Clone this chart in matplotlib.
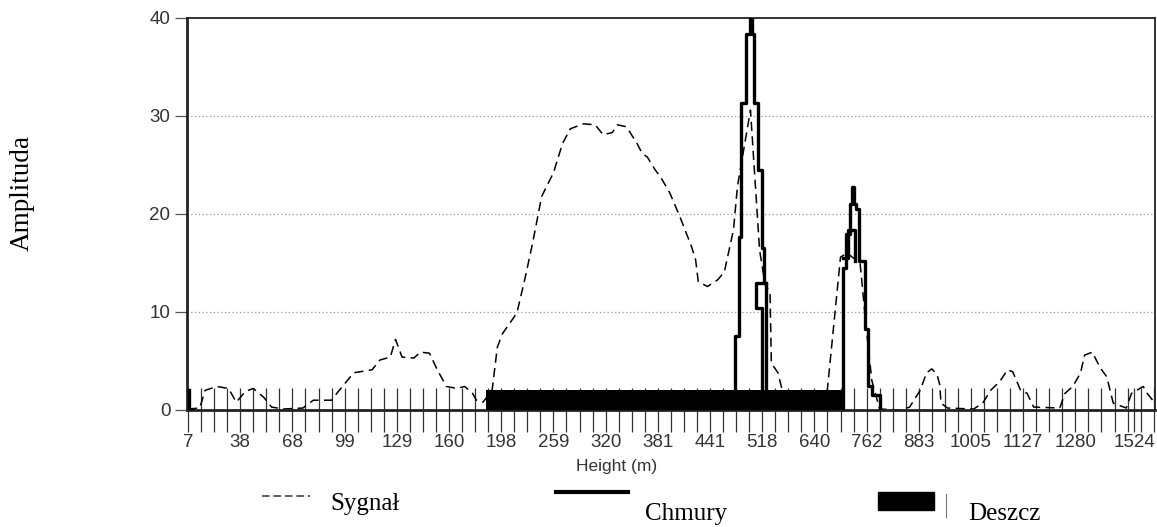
import matplotlib
matplotlib.use("Agg")
import matplotlib.pyplot as plt
import numpy as np
from matplotlib.lines import Line2D
from matplotlib.patches import Rectangle

# tick labels (height in m), placed on the range-gate index axis
tick_pos = [0, 4, 8, 12, 16, 20, 24, 28, 32, 36, 40, 44, 48, 52, 56, 60, 64, 68, 72.5]
tick_lbl = ["7", "38", "68", "99", "129", "160", "198", "259", "320", "381",
            "441", "518", "640", "762", "883", "1005", "1127", "1280", "1524"]

# signal (dashed): gate index, amplitude
sig_x = [0, 0.9, 1.3, 2.2, 3.1, 3.7, 4.4, 5.0, 5.8, 6.4, 7.3, 8.8, 9.6, 11.0, 11.4,
         12.7, 14.1, 14.7, 15.5, 15.9, 16.4, 17.3, 17.8, 18.5, 19.1, 19.8, 20.6,
         21.2, 21.8, 22.1, 22.6, 23.3, 23.7, 24.1, 25.2, 25.8, 26.4, 27.1, 28.0,
         28.7, 29.3, 30.3, 31.2, 31.8, 32.5, 32.9, 33.6, 34.4, 34.8, 35.2, 35.8,
         36.2, 36.9, 37.7, 38.6, 38.9, 39.1, 39.8, 40.6, 41.1, 41.8, 42.1, 43.1,
         43.8, 44.2, 44.6, 44.7, 45.2, 45.5, 46.0, 48.8, 49.0, 50.0, 50.5, 51.5,
         52.0, 52.4, 53.0, 54.6, 55.3, 56.1, 56.6, 57.0, 57.4, 57.6, 57.7, 58.2,
         60.2, 60.9, 61.5, 62.2, 62.8, 63.2, 63.8, 64.3, 64.8, 66.8, 67.2, 67.8,
         68.4, 68.7, 69.3, 69.9, 70.4, 70.9, 71.9, 72.3, 73.2, 73.5, 74.1]
sig_y = [0.1, 0.2, 2.0, 2.4, 2.2, 0.8, 1.9, 2.2, 1.3, 0.3, 0.1, 0.2, 1.0, 1.0, 1.7,
         3.8, 4.1, 5.1, 5.4, 7.2, 5.4, 5.3, 5.9, 5.8, 4.1, 2.4, 2.2,
         2.4, 1.7, 1.0, 0.8, 2.0, 6.4, 7.8, 9.9, 13.3, 17.0, 21.8, 24.2,
         27.2, 28.7, 29.2, 29.1, 28.1, 28.3, 29.1, 28.9, 27.2, 26.2, 25.8, 24.5,
         23.8, 22.2, 19.7, 16.6, 15.3, 13.1, 12.6, 13.3, 14.1, 18.4, 22.8, 30.6,
         16.3, 13.0, 11.9, 4.8, 3.8, 2.2, 0.0, 0.0, 2.2, 15.6, 16.0, 15.0,
         8.0, 3.0, 0.1, 0.0, 0.3, 2.0, 3.8, 4.2, 3.6, 2.6, 0.7, 0.2,
         0.1, 0.7, 2.0, 2.9, 4.1, 3.9, 2.0, 1.7, 0.3, 0.2, 1.7, 2.4,
         3.8, 5.6, 5.9, 4.3, 3.4, 0.7, 0.2, 1.7, 2.4, 1.7, 0.7]

# clouds (solid step outlines)
cloud1_x = [41.6, 41.9, 42.2, 42.4, 42.75, 43.1, 43.2, 43.35, 43.65, 43.95, 44.15, 44.3]
cloud1_y = [0, 7.6, 17.7, 31.3, 38.4, 42.0, 38.4, 31.3, 24.5, 16.5, 13.0, 0]
cloud1b_x = [44.3, 43.5, 43.5, 43.95, 43.95]
cloud1b_y = [13.0, 13.0, 10.4, 10.4, 0]
cloud2_x = [50.0, 50.2, 50.45, 50.7, 50.85, 51.0, 51.2, 51.45, 51.9, 52.1, 52.4, 53.0]
cloud2_y = [0, 14.5, 18.0, 21.0, 22.8, 21.0, 20.5, 15.2, 8.3, 2.4, 1.5, 0]
cloud2b_x = [50.2, 50.55, 50.55, 51.1, 51.1]
cloud2b_y = [15.5, 15.5, 18.4, 18.4, 15.2]
cloud0_x = [0.05, 0.05, 0.4]
cloud0_y = [2.0, 0.0, 0.0]

# rain (filled bar)
rain_start, rain_end, rain_top = 22.8, 50.3, 2.0

sans = "Liberation Sans"
serif = "Liberation Serif"

fig = plt.figure(figsize=(11.57, 5.27), dpi=100)
ax = fig.add_axes([187 / 1157, 1 - 410 / 527, (1155 - 187) / 1157, (410 - 18) / 527])

ax.plot(sig_x, sig_y, color="black", lw=1.1, ls=(0, (6, 3.5)), zorder=2)
ax.bar(rain_start, rain_top, width=rain_end - rain_start, align="edge",
       color="black", zorder=3)
ax.step(cloud1_x, cloud1_y, where="post", color="black", lw=2.4, zorder=4)
ax.plot(cloud1b_x, cloud1b_y, color="black", lw=2.4, zorder=4)
ax.step(cloud2_x, cloud2_y, where="post", color="black", lw=2.4, zorder=4)
ax.plot(cloud2b_x, cloud2b_y, color="black", lw=2.4, zorder=4)
ax.plot(cloud0_x, cloud0_y, color="black", lw=2.4, zorder=4)

ax.set_xlim(-0.08, 74.1)
ax.set_ylim(0, 40)
ax.set_yticks([0, 10, 20, 30, 40])
ax.set_xticks(tick_pos)
ax.set_xticklabels(tick_lbl)
ax.set_xticks(np.arange(0, 75), minor=True)
for lab in ax.get_xticklabels() + ax.get_yticklabels():
    lab.set_family(sans)
for y in [10, 20, 30]:
    ax.axhline(y, color="#9a9a9a", lw=0.9, ls=(0, (1, 2)), zorder=1)

ax.tick_params(axis="x", which="both", direction="inout", length=32, width=0.9,
               color="#333333", labelsize=13.5, labelcolor="#333333", pad=1)
ax.tick_params(axis="y", direction="out", length=9, width=0.9, color="#555555",
               labelsize=13.5, labelcolor="#333333", pad=3)
for s in ax.spines.values():
    s.set_linewidth(1.3)
    s.set_color("#222222")
ax.spines["left"].set_linewidth(2.0)
ax.spines["bottom"].set_linewidth(2.0)

ax.set_xlabel("Height (m)", fontsize=12.5, color="#333333", labelpad=0, family=sans)
ax.xaxis.set_label_coords((617 - 187) / (1155 - 187), -0.125)
fig.text(22 / 1157, 1 - 193 / 527, "Amplituda", rotation=90, ha="center", va="center",
         fontsize=19.5, family=serif)

# legend drawn below the chart
fig.add_artist(Line2D([262 / 1157, 310 / 1157], [1 - 496 / 527] * 2, color="#333333",
                      lw=1.1, ls=(0, (5, 2.5))))
fig.text(330 / 1157, 1 - 504 / 527, "Sygnał", ha="left", va="center", fontsize=18,
         family=serif)
fig.add_artist(Line2D([556 / 1157, 628 / 1157], [1 - 492 / 527] * 2, color="black", lw=3))
fig.text(645 / 1157, 1 - 514 / 527, "Chmury", ha="left", va="center", fontsize=18,
         family=serif)
fig.add_artist(Rectangle((878 / 1157, 1 - 510 / 527), 56 / 1157, 18 / 527,
                         transform=fig.transFigure, color="black"))
fig.add_artist(Line2D([946 / 1157] * 2, [1 - 517 / 527, 1 - 494 / 527], color="#777777",
                      lw=0.8))
fig.text(968 / 1157, 1 - 514 / 527, "Deszcz", ha="left", va="center", fontsize=18,
         family=serif)

fig.savefig("out.png", dpi=100)
